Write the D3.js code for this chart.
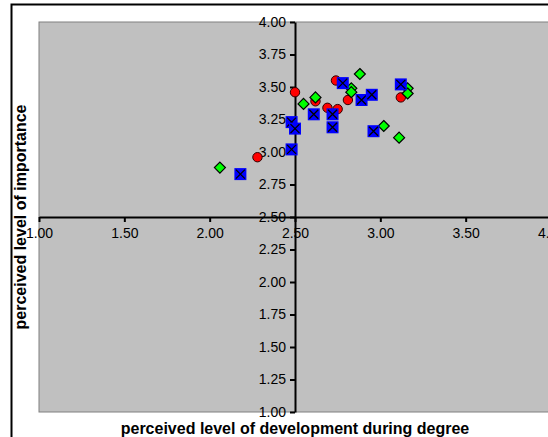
<!DOCTYPE html>
<html>
<head>
<script src="https://cdn.jsdelivr.net/npm/d3@7"></script>
<style>
  body { margin: 0; background: #fff; }
  svg { display: block; }
</style>
</head>
<body>
<script>
// data
var redX   = [2.50, 2.74, 2.62, 2.69, 2.75, 2.81, 3.12, 2.28];
var redY   = [3.46, 3.55, 3.39, 3.34, 3.33, 3.40, 3.42, 2.96];
var greenX = [2.06, 2.55, 2.62, 2.88, 2.83, 2.83, 3.02, 3.11, 3.16, 3.16];
var greenY = [2.88, 3.37, 3.42, 3.60, 3.49, 3.46, 3.20, 3.11, 3.49, 3.45];
var blueX  = [2.18, 2.48, 2.48, 2.50, 2.61, 2.72, 2.72, 2.78, 2.89, 2.95, 2.96, 3.12];
var blueY  = [2.83, 3.02, 3.23, 3.18, 3.29, 3.29, 3.19, 3.53, 3.40, 3.44, 3.16, 3.52];
var xTicks = [1.00, 1.50, 2.00, 2.50, 3.00, 3.50, 4.00];
var yTicks = [1.00, 1.25, 1.50, 1.75, 2.00, 2.25, 2.50, 2.75, 3.00, 3.25, 3.50, 3.75, 4.00];

var w = 548, h = 437;
var svg = d3.select("body").append("svg").attr("width", w).attr("height", h);

var x = d3.scaleLinear().domain([1, 4]).range([39, 551]);
var y = d3.scaleLinear().domain([1, 4]).range([412, 22]);

// outer chart frame (runs off the right and bottom)
svg.append("rect")
  .attr("x", 11.5).attr("y", 4.5)
  .attr("width", 600).attr("height", 500)
  .attr("fill", "#fff").attr("stroke", "#000").attr("stroke-width", 2);

// plot area
svg.append("rect")
  .attr("x", x(1)).attr("y", y(4))
  .attr("width", x(4) - x(1) + 10).attr("height", y(1) - y(4))
  .attr("fill", "#c0c0c0").attr("stroke", "#808080").attr("stroke-width", 1);

var fmt = d3.format(".2f");

var yAxis = svg.append("g")
  .attr("transform", "translate(" + x(2.5) + ",0)")
  .call(d3.axisLeft(y).tickValues(yTicks).tickFormat(fmt).tickSize(5).tickSizeOuter(0).tickPadding(4));

var xAxis = svg.append("g")
  .attr("transform", "translate(0," + y(2.5) + ")")
  .call(d3.axisBottom(x).tickValues(xTicks).tickFormat(fmt).tickSize(5).tickSizeOuter(0).tickPadding(6));

[xAxis, yAxis].forEach(function(g) {
  g.select(".domain").attr("stroke", "#000").attr("stroke-width", 2);
  g.selectAll(".tick line").attr("stroke", "#000").attr("stroke-width", 2);
  g.selectAll("text").attr("font-family", "Liberation Sans, Arial, sans-serif")
    .attr("font-size", "14px").attr("fill", "#000");
});

// series: red circles, green diamonds, blue squares with a cross
svg.append("g").selectAll("circle").data(d3.range(redX.length)).enter().append("circle")
  .attr("cx", function(i) { return x(redX[i]); })
  .attr("cy", function(i) { return y(redY[i]); })
  .attr("r", 4.7)
  .attr("fill", "#ff0000").attr("stroke", "#300000").attr("stroke-width", 1);

svg.append("g").selectAll("path").data(d3.range(greenX.length)).enter().append("path")
  .attr("transform", function(i) { return "translate(" + x(greenX[i]) + "," + y(greenY[i]) + ")"; })
  .attr("d", "M0,-5.5L5.5,0L0,5.5L-5.5,0Z")
  .attr("fill", "#00ff00").attr("stroke", "#000").attr("stroke-width", 1.2);

var b = svg.append("g").selectAll("g").data(d3.range(blueX.length)).enter().append("g")
  .attr("transform", function(i) { return "translate(" + x(blueX[i]) + "," + y(blueY[i]) + ")"; });
b.append("rect")
  .attr("x", -6).attr("y", -6).attr("width", 12).attr("height", 12)
  .attr("fill", "#0000ff");
b.append("path")
  .attr("d", "M-4.5,-4.5L4.5,4.5M4.5,-4.5L-4.5,4.5")
  .attr("stroke", "#000").attr("stroke-width", 1.3);

// axis titles
svg.append("text")
  .attr("x", 295).attr("y", 434)
  .attr("text-anchor", "middle")
  .attr("font-family", "Liberation Sans, Arial, sans-serif")
  .attr("font-size", "16px").attr("font-weight", "bold")
  .text("perceived level of development during degree");

svg.append("text")
  .attr("transform", "translate(26,217) rotate(-90)")
  .attr("text-anchor", "middle")
  .attr("font-family", "Liberation Sans, Arial, sans-serif")
  .attr("font-size", "16px").attr("font-weight", "bold")
  .text("perceived level of importance");
</script>
</body>
</html>
